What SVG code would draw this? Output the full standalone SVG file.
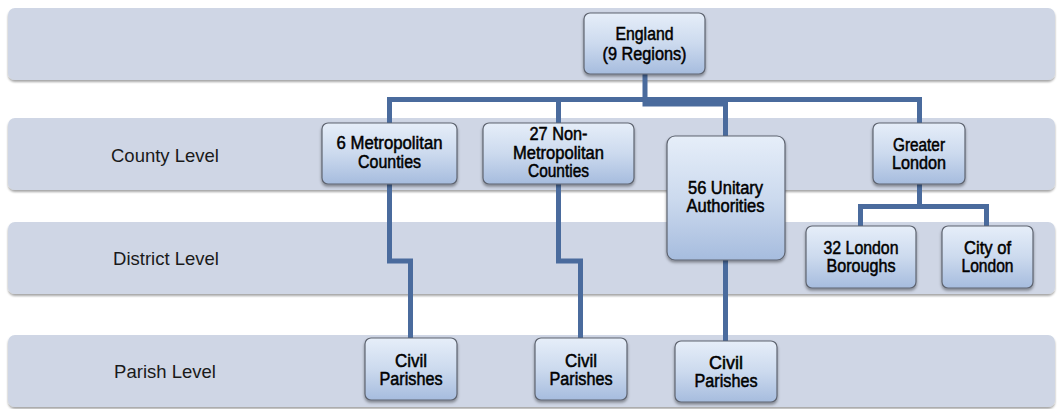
<svg xmlns="http://www.w3.org/2000/svg" width="1057" height="409" viewBox="0 0 1057 409">
<defs>
  <linearGradient id="ng" x1="0" y1="0" x2="0" y2="1">
    <stop offset="0" stop-color="#E6EEF9"/>
    <stop offset="0.5" stop-color="#CCDAEE"/>
    <stop offset="1" stop-color="#A6BCDE"/>
  </linearGradient>
  <filter id="bs" x="-5%" y="-20%" width="110%" height="150%">
    <feDropShadow dx="0" dy="2" stdDeviation="1.2" flood-color="#000" flood-opacity="0.35"/>
  </filter>
  <filter id="ns" x="-10%" y="-10%" width="120%" height="130%">
    <feDropShadow dx="0" dy="2" stdDeviation="1.5" flood-color="#000" flood-opacity="0.4"/>
  </filter>
</defs>
<style>
  .band { fill: #CFD6E5; filter: url(#bs); }
  .lvl { font-family: "Liberation Sans", Arial, sans-serif; font-size: 18.5px; fill: #1a1a1a; text-anchor: middle; }
  .node rect { fill: url(#ng); stroke: #5E6470; stroke-width: 1.2; filter: url(#ns); }
  .node text { font-family: "Liberation Sans", Arial, sans-serif; font-size: 17.5px; fill: #000; text-anchor: middle; stroke: #000; stroke-width: 0.5; }
  .conn path { fill: none; stroke: #4A6B9D; stroke-width: 5; stroke-linejoin: miter; }
</style>

<g id="bands">
  <rect class="band" x="8" y="8" width="1047" height="72" rx="7"/>
  <rect class="band" x="8" y="118" width="1047" height="72" rx="7"/>
  <rect class="band" x="8" y="222" width="1047" height="72" rx="7"/>
  <rect class="band" x="8" y="335" width="1047" height="72" rx="7"/>
  <text class="lvl" x="165" y="162">County Level</text>
  <text class="lvl" x="166" y="265">District Level</text>
  <text class="lvl" x="165" y="378">Parish Level</text>
</g>

<g id="connectors" class="conn">
  <path d="M389.5,123 V99.5 H919.5 V123"/>
  <path d="M558.5,123 V99.5"/>
  <path d="M645,74 V104 H725.5 V136"/>
  <path d="M389.5,184 V261 H410.5 V338"/>
  <path d="M558.5,184 V261 H580.5 V338"/>
  <path d="M725.5,260 V341"/>
  <path d="M919.5,184 V206.5"/>
  <path d="M860.5,226 V206.5 H986.5 V226"/>
</g>

<g id="england" class="node">
  <rect x="584" y="13" width="121" height="61" rx="6"/>
  <text x="644.5" y="40" textLength="58" lengthAdjust="spacingAndGlyphs">England</text>
  <text x="644.5" y="60" textLength="84" lengthAdjust="spacingAndGlyphs">(9 Regions)</text>
</g>
<g id="metro" class="node">
  <rect x="322" y="123" width="135" height="61" rx="6"/>
  <text x="389.5" y="149" textLength="106" lengthAdjust="spacingAndGlyphs">6 Metropolitan</text>
  <text x="389.5" y="168" textLength="63" lengthAdjust="spacingAndGlyphs">Counties</text>
</g>
<g id="nonmetro" class="node">
  <rect x="483" y="123" width="151" height="61" rx="6"/>
  <text x="558.5" y="140" textLength="58" lengthAdjust="spacingAndGlyphs">27 Non-</text>
  <text x="558.5" y="159" textLength="91" lengthAdjust="spacingAndGlyphs">Metropolitan</text>
  <text x="558.5" y="177" textLength="61" lengthAdjust="spacingAndGlyphs">Counties</text>
</g>
<g id="unitary" class="node">
  <rect x="667" y="136" width="118" height="124" rx="8"/>
  <text x="725.5" y="194" textLength="75" lengthAdjust="spacingAndGlyphs">56 Unitary</text>
  <text x="725.5" y="212" textLength="78" lengthAdjust="spacingAndGlyphs">Authorities</text>
</g>
<g id="greaterlondon" class="node">
  <rect x="873" y="123" width="92" height="61" rx="6"/>
  <text x="919" y="151" textLength="52" lengthAdjust="spacingAndGlyphs">Greater</text>
  <text x="919" y="169" textLength="54" lengthAdjust="spacingAndGlyphs">London</text>
</g>
<g id="boroughs" class="node">
  <rect x="806" y="226" width="110" height="62" rx="6"/>
  <text x="861" y="254" textLength="75" lengthAdjust="spacingAndGlyphs">32 London</text>
  <text x="861" y="272" textLength="69" lengthAdjust="spacingAndGlyphs">Boroughs</text>
</g>
<g id="city" class="node">
  <rect x="942" y="226" width="91" height="62" rx="6"/>
  <text x="987.5" y="254" textLength="47" lengthAdjust="spacingAndGlyphs">City of</text>
  <text x="987.5" y="272" textLength="52" lengthAdjust="spacingAndGlyphs">London</text>
</g>
<g id="parishes1" class="node">
  <rect x="365" y="338" width="92" height="62" rx="6"/>
  <text x="411" y="367" textLength="32" lengthAdjust="spacingAndGlyphs">Civil</text>
  <text x="411" y="385" textLength="63" lengthAdjust="spacingAndGlyphs">Parishes</text>
</g>
<g id="parishes2" class="node">
  <rect x="535" y="338" width="92" height="62" rx="6"/>
  <text x="581" y="367" textLength="32" lengthAdjust="spacingAndGlyphs">Civil</text>
  <text x="581" y="385" textLength="63" lengthAdjust="spacingAndGlyphs">Parishes</text>
</g>
<g id="parishes3" class="node">
  <rect x="675" y="341" width="102" height="61" rx="6"/>
  <text x="726" y="369" textLength="34" lengthAdjust="spacingAndGlyphs">Civil</text>
  <text x="726" y="387" textLength="63" lengthAdjust="spacingAndGlyphs">Parishes</text>
</g>
</svg>
